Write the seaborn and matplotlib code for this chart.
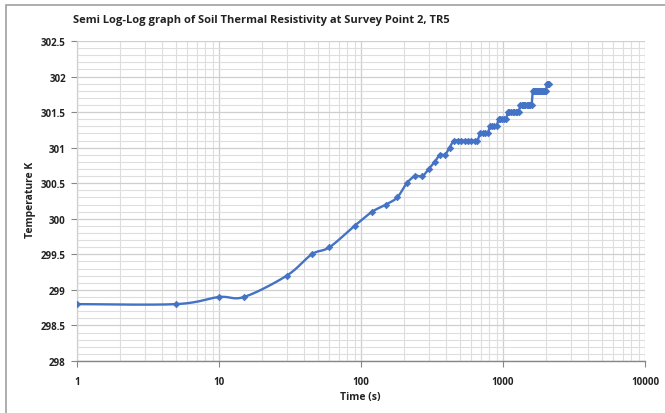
import numpy as np
import pandas as pd
import matplotlib
matplotlib.use("Agg")
import matplotlib.pyplot as plt
import seaborn as sns
from matplotlib.ticker import FixedLocator, LogLocator, MultipleLocator, FuncFormatter, NullFormatter
from matplotlib.patches import Rectangle

# ---- data ----
time_s = [1, 5, 10, 15, 30, 45, 60, 90, 120, 150, 180, 210, 240, 270, 300, 330, 360, 390, 420,
          450, 480, 510, 540, 570, 600, 630, 660,
          690, 720, 750, 780,
          810, 840, 870, 900,
          930, 960, 990, 1020, 1050,
          1080, 1110, 1140, 1170, 1200, 1230, 1260, 1290,
          1320, 1350, 1380, 1410, 1440, 1470, 1500, 1530, 1560, 1590,
          1620, 1650, 1680, 1710, 1740, 1770, 1800, 1830, 1860, 1890, 1920, 1950, 1980, 2010,
          2040, 2070, 2100]
temp_K = [298.8, 298.8, 298.9, 298.9, 299.2, 299.5, 299.6, 299.9, 300.1, 300.2, 300.3, 300.5, 300.6, 300.6, 300.7, 300.8, 300.9, 300.9, 301.0,
          301.1, 301.1, 301.1, 301.1, 301.1, 301.1, 301.1, 301.1,
          301.2, 301.2, 301.2, 301.2,
          301.3, 301.3, 301.3, 301.3,
          301.4, 301.4, 301.4, 301.4, 301.4,
          301.5, 301.5, 301.5, 301.5, 301.5, 301.5, 301.5, 301.5,
          301.6, 301.6, 301.6, 301.6, 301.6, 301.6, 301.6, 301.6, 301.6, 301.6,
          301.8, 301.8, 301.8, 301.8, 301.8, 301.8, 301.8, 301.8, 301.8, 301.8, 301.8, 301.8, 301.8, 301.8,
          301.9, 301.9, 301.9]

x_ticks = [1, 10, 100, 1000, 10000]
y_ticks = [298, 298.5, 299, 299.5, 300, 300.5, 301, 301.5, 302, 302.5]

title = "Semi Log-Log graph of Soil Thermal Resistivity at Survey Point 2, TR5"
xlabel = "Time (s)"
ylabel = "Temperature K"

df = pd.DataFrame({"time": time_s, "temp": temp_K})

sns.set_theme(style="white")
plt.rcParams["font.family"] = ["Open Sans", "DejaVu Sans"]

W, H = 665, 414
fig = plt.figure(figsize=(W / 100, H / 100), dpi=100)
ax = fig.add_axes([77 / W, (H - 362) / H, 568 / W, 320 / H])

blue = "#4472C4"
xmin, xmax = 1, 10000
ymin, ymax = 298, 302.5
ax.set_xscale("log")
ax.set_xlim(xmin, xmax)
ax.set_ylim(ymin, ymax)

# Smoothed line (Catmull-Rom in screen space, like spreadsheet smoothing)
pw, ph = 568.0, 320.0
px = (np.log10(df["time"].to_numpy()) - np.log10(xmin)) / (np.log10(xmax) - np.log10(xmin)) * pw
py = (df["temp"].to_numpy() - ymin) / (ymax - ymin) * ph
P = np.column_stack([px, py])
n = len(P)
curve = []
tt = np.linspace(0, 1, 25)
for i in range(n - 1):
    p0 = P[i - 1] if i > 0 else P[i]
    p1 = P[i]
    p2 = P[i + 1]
    p3 = P[i + 2] if i + 2 < n else P[i + 1]
    c1 = p1 + (p2 - p0) / 6.0
    c2 = p2 - (p3 - p1) / 6.0
    seg = ((1 - tt) ** 3)[:, None] * p1 + (3 * (1 - tt) ** 2 * tt)[:, None] * c1 \
        + (3 * (1 - tt) * tt ** 2)[:, None] * c2 + (tt ** 3)[:, None] * p2
    curve.append(seg if i == 0 else seg[1:])
curve = np.vstack(curve)
cx = 10 ** (curve[:, 0] / pw * (np.log10(xmax) - np.log10(xmin)) + np.log10(xmin))
cy = curve[:, 1] / ph * (ymax - ymin) + ymin
smooth = pd.DataFrame({"time": cx, "temp": cy})
sns.lineplot(data=smooth, x="time", y="temp", ax=ax, color=blue, lw=1.7, sort=False,
             estimator=None, zorder=3)
sns.scatterplot(data=df, x="time", y="temp", ax=ax, color=blue, marker="D", s=11,
                edgecolor=blue, linewidth=0.5, zorder=4)

# grid
ax.yaxis.set_major_locator(FixedLocator(y_ticks))
ax.yaxis.set_minor_locator(MultipleLocator(0.1))
ax.xaxis.set_major_locator(FixedLocator(x_ticks))
ax.xaxis.set_minor_locator(LogLocator(base=10, subs=np.arange(2, 10), numticks=20))
ax.xaxis.set_minor_formatter(NullFormatter())
ax.grid(which="major", color="#cfcfcf", lw=0.9)
ax.grid(which="minor", color="#dedede", lw=0.8)
ax.set_axisbelow(True)

ax.yaxis.set_major_formatter(FuncFormatter(lambda v, p: f"{v:g}"))
ax.xaxis.set_major_formatter(FuncFormatter(lambda v, p: f"{v:g}"))
ax.tick_params(axis="y", which="major", left=True, length=4, width=0.8, color="#868686",
               labelsize=7, pad=4, labelcolor="#222222")
ax.tick_params(axis="x", which="major", bottom=True, length=4, width=0.8, color="#868686",
               labelsize=7, pad=7, labelcolor="#222222")
ax.tick_params(which="minor", length=0)
for lab in ax.get_xticklabels() + ax.get_yticklabels():
    lab.set_fontweight("bold")

for s in ["top", "right"]:
    ax.spines[s].set_visible(False)
ax.spines["left"].set_color("#d0d0d0")
ax.spines["left"].set_linewidth(0.9)
ax.spines["bottom"].set_color("#868686")
ax.spines["bottom"].set_linewidth(1.0)

ax.set_xlabel("")
ax.set_ylabel("")
fig.text(360 / W, 1 - 398 / H, xlabel, ha="center", va="center", fontsize=7.5,
         fontweight="bold", color="#222222")
fig.text(30 / W, 1 - 200 / H, ylabel, ha="center", va="center", rotation=90, fontsize=7.5,
         fontweight="bold", color="#222222")
fig.text(73 / W, 1 - 20 / H, title, ha="left", va="center", fontsize=8,
         fontweight="bold", color="#222222")

# outer chart border
fig.patches.append(Rectangle((6 / W, -0.05), 1.2, 1 - 6 / H + 0.05, transform=fig.transFigure,
                             fill=False, edgecolor="#a0a0a0", lw=1.2))

fig.savefig("out.png", dpi=100)
